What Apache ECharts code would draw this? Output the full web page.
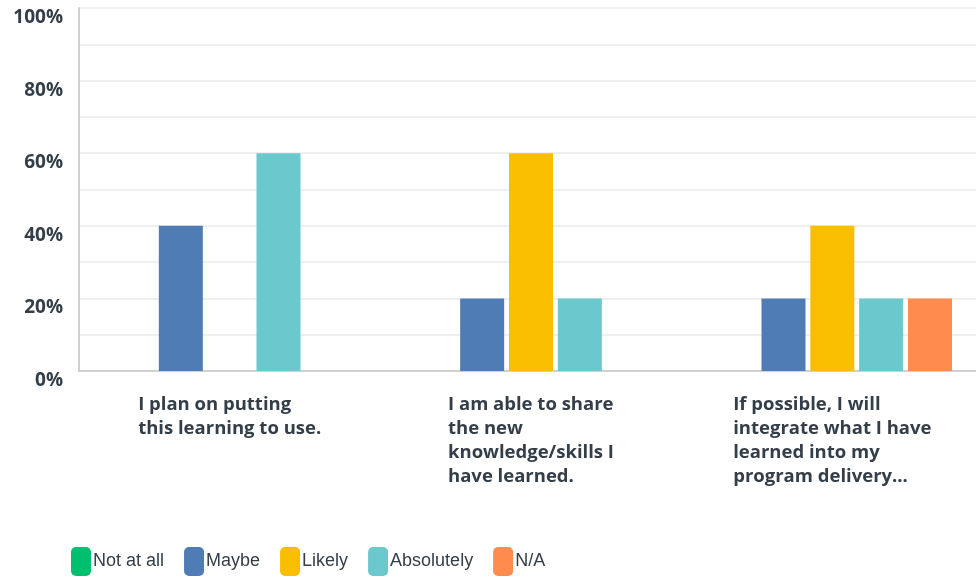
<!DOCTYPE html>
<html>
<head>
<meta charset="utf-8">
<script src="https://cdn.jsdelivr.net/npm/echarts@6/dist/echarts.min.js"></script>
<style>html,body{margin:0;padding:0;background:#fff}#c{width:976px;height:578px}</style>
</head>
<body>
<div id="c"></div>
<script>
const categories = [
  "I plan on putting\nthis learning to use.",
  "I am able to share\nthe new\nknowledge/skills I\nhave learned.",
  "If possible, I will\nintegrate what I have\nlearned into my\nprogram delivery..."
];
const seriesNames = ["Not at all", "Maybe", "Likely", "Absolutely", "N/A"];
const notAtAll = [0, 0, 0];
const maybe = [40, 20, 20];
const likely = [0, 60, 40];
const absolutely = [60, 20, 20];
const na = [0, 0, 20];
const colors = ["#00bf6f", "#507cb6", "#f9be00", "#6bc8cd", "#ff8b4f"];
const yTicks = [0, 20, 40, 60, 80, 100];

const values = [notAtAll, maybe, likely, absolutely, na];
const textColor = "#333e48";
const chart = echarts.init(document.getElementById('c'));
chart.setOption({
  animation: false,
  color: colors,
  grid: { left: 79, width: 904, top: 8, height: 363, containLabel: false, outerBoundsMode: 'none' },
  legend: {
    data: seriesNames,
    left: 71, top: 547, padding: 0,
    icon: 'roundRect',
    itemWidth: 20, itemHeight: 29, itemGap: 20,
    textStyle: { color: textColor, fontSize: 18, fontFamily: "'Liberation Sans', sans-serif", padding: [0,0,0,-3] }
  },
  xAxis: {
    type: 'category',
    data: categories,
    axisTick: { show: false },
    axisLine: { show: true, lineStyle: { color: '#d0d0d0', width: 2 } },
    axisLabel: {
      interval: 0,
      margin: 22,
      verticalAlign: 'top',
      formatter: v => v.split('\n').map(l => '{a|' + l + '}').join('\n'),
      rich: { a: { align: 'left', fontSize: 18.5, fontWeight: 'bold', color: textColor, lineHeight: 24, fontFamily: "'Open Sans', sans-serif" } }
    }
  },
  yAxis: {
    type: 'value', min: 0, max: 100, interval: 10,
    axisLine: { show: true, lineStyle: { color: '#d0d0d0', width: 2 } },
    axisTick: { show: false },
    splitLine: { lineStyle: { color: '#efefef', width: 2 } },
    axisLabel: {
      margin: 16,
      verticalAlign: 'top',
      color: textColor, fontSize: 19, fontWeight: 'bold', fontFamily: "'Open Sans', sans-serif",
      formatter: v => yTicks.indexOf(v) >= 0 ? v + '%' : ''
    }
  },
  series: seriesNames.map((n, i) => ({
    name: n, type: 'bar', data: values[i], barWidth: 44, barGap: '11%'
  }))
});
</script>
</body>
</html>
